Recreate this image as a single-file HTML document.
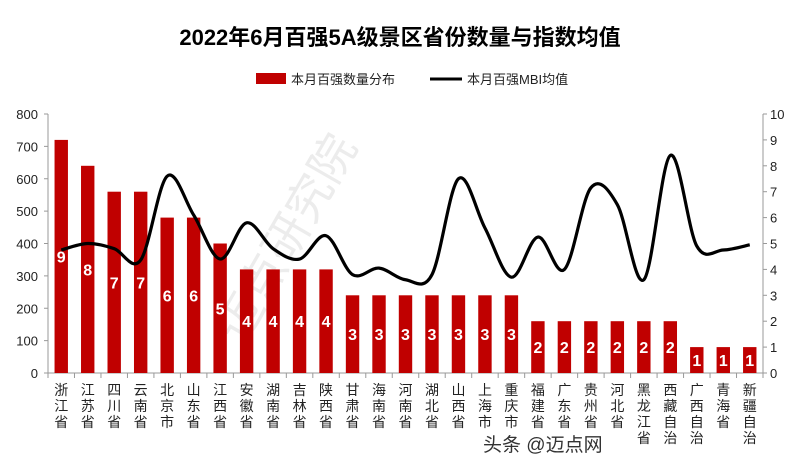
<!DOCTYPE html>
<html><head><meta charset="utf-8"><style>
body{margin:0;background:#fff;}
svg{display:block;font-family:"Liberation Sans","Noto Sans CJK SC",sans-serif;}
</style></head><body>
<svg id="s" width="800" height="468" viewBox="0 0 800 468" xmlns="http://www.w3.org/2000/svg">
<text x="400" y="45" text-anchor="middle" font-size="22" font-weight="bold" fill="#000">2022年6月百强5A级景区省份数量与指数均值</text>
<rect x="256" y="73" width="30" height="11" fill="#c00000"/>
<text x="291" y="84" font-size="13" fill="#222">本月百强数量分布</text>
<line x1="430" y1="79" x2="462" y2="79" stroke="#000" stroke-width="3"/>
<text x="467" y="84" font-size="13" fill="#222">本月百强MBI均值</text>
<text x="290" y="252" font-size="46" fill="#ececec" transform="rotate(-60 290 240)" text-anchor="middle">迈点研究院</text>
<g id="g"></g>
<text x="483" y="451" font-size="19" fill="#333">头条 @迈点网</text>
</svg>
<script>
var g=document.getElementById('g'),h='';
var names=["浙江省","江苏省","四川省","云南省","北京市","山东省","江西省","安徽省","湖南省","吉林省","陕西省","甘肃省","海南省","河南省","湖北省","山西省","上海市","重庆市","福建省","广东省","贵州省","河北省","黑龙江省","西藏自治","广西自治","青海省","新疆自治"];
var cnt=[9,8,7,7,6,6,5,4,4,4,4,3,3,3,3,3,3,3,2,2,2,2,2,2,1,1,1];
var mbi=[4.75,5.0,4.8,4.36,7.6,6.1,4.4,5.8,4.8,4.4,5.3,3.8,4.05,3.6,3.8,7.5,5.6,3.7,5.25,4.0,7.15,6.5,3.6,8.4,4.9,4.75,4.95];
var L=48,R=763,B=373,T=114,W=(R-L)/27;
function yl(v){return B-(v/800)*(B-T);}
function yr(v){return B-(v/10)*(B-T);}
for(var i=0;i<=8;i++){var y=yl(i*100);h+='<text x="38" y="'+(y+5)+'" font-size="13" text-anchor="end" fill="#222">'+i*100+'</text><line x1="44" x2="48" y1="'+y+'" y2="'+y+'" stroke="#999"/>';}
for(var i=0;i<=10;i++){var y=yr(i);h+='<text x="770" y="'+(y+5)+'" font-size="13" fill="#222">'+i+'</text><line x1="763" x2="767" y1="'+y+'" y2="'+y+'" stroke="#999"/>';}
h+='<line x1="48" y1="'+T+'" x2="48" y2="'+B+'" stroke="#999"/><line x1="763" y1="'+T+'" x2="763" y2="'+B+'" stroke="#999"/><line x1="48" y1="'+B+'" x2="763" y2="'+B+'" stroke="#999"/>';
for(var i=0;i<=27;i++){var x=L+i*W;h+='<line x1="'+x+'" x2="'+x+'" y1="'+B+'" y2="'+(B+5)+'" stroke="#999"/>';}
var pts=[];
for(var i=0;i<27;i++){var cx=L+W*(i+0.5),v=cnt[i]*80,yt=yl(v);
h+='<rect x="'+(cx-6.7)+'" y="'+yt+'" width="13.4" height="'+(B-yt)+'" fill="#c00000"/>';
h+='<text x="'+cx+'" y="'+((yt+B)/2+6)+'" font-size="16" font-weight="bold" fill="#fff" text-anchor="middle">'+cnt[i]+'</text>';
var n=names[i];for(var k=0;k<n.length;k++)h+='<text x="'+cx+'" y="'+(395+k*16)+'" font-size="14" fill="#222" text-anchor="middle">'+n[k]+'</text>';
pts.push([cx,yr(mbi[i])]);}
var d='M'+pts[0][0]+','+pts[0][1];
for(var i=0;i<26;i++){var p0=pts[Math.max(0,i-1)],p1=pts[i],p2=pts[i+1],p3=pts[Math.min(26,i+2)];
d+=' C'+(p1[0]+(p2[0]-p0[0])/6)+','+(p1[1]+(p2[1]-p0[1])/6)+' '+(p2[0]-(p3[0]-p1[0])/6)+','+(p2[1]-(p3[1]-p1[1])/6)+' '+p2[0]+','+p2[1];}
h+='<path d="'+d+'" fill="none" stroke="#000" stroke-width="3.2"/>';
g.innerHTML=h;
</script>
</body></html>
